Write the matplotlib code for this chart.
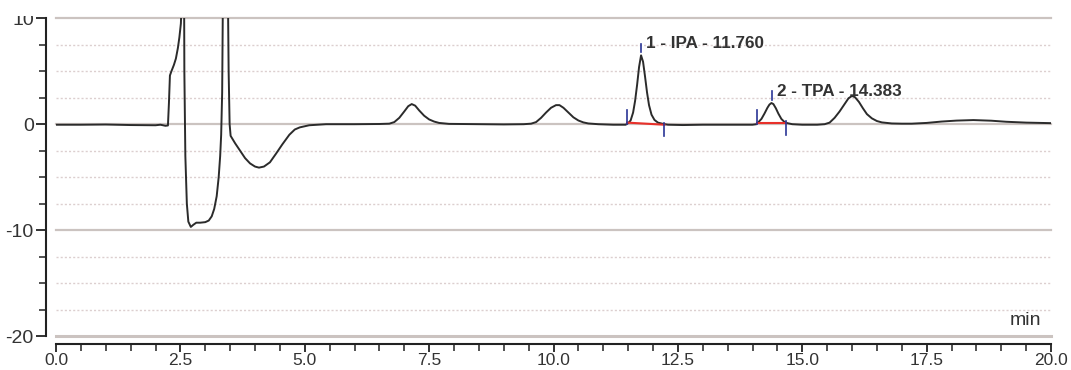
import matplotlib
matplotlib.use("Agg")
import matplotlib.pyplot as plt
from matplotlib.ticker import MultipleLocator, FixedLocator
from matplotlib.transforms import Bbox, TransformedBbox

# ---- data ----
time_min = [0.0, 0.5, 1.0, 1.5, 2.0, 2.1, 2.2, 2.25,
            2.27, 2.29, 2.32, 2.37, 2.41, 2.45, 2.48, 2.51, 2.53, 2.55, 2.56,
            2.57, 2.58, 2.60, 2.63, 2.66, 2.71, 2.76, 2.82, 2.90, 3.00, 3.07,
            3.13, 3.18, 3.23, 3.27, 3.30, 3.32, 3.34, 3.36, 3.38, 3.42, 3.45,
            3.47, 3.49, 3.51, 3.60, 3.70, 3.80, 3.90, 4.00, 4.08, 4.18, 4.30,
            4.42, 4.55, 4.69, 4.80, 4.90, 5.09, 5.43, 6.00, 6.50, 6.70, 6.80,
            6.90, 7.00, 7.08, 7.15, 7.22, 7.30, 7.40, 7.50, 7.60, 7.70, 7.90,
            8.50, 9.00, 9.40, 9.55, 9.65, 9.75, 9.85, 9.95, 10.05, 10.12, 10.20,
            10.30, 10.40, 10.50, 10.60, 10.70, 10.90, 11.20, 11.45,
            11.50, 11.55, 11.60, 11.64, 11.68, 11.72, 11.76, 11.80, 11.84, 11.88,
            11.92, 11.97, 12.03, 12.10, 12.20, 12.30, 12.60, 13.00, 13.50, 14.00,
            14.08, 14.12, 14.18, 14.24, 14.30, 14.34, 14.38, 14.42, 14.47, 14.52,
            14.58, 14.64, 14.70, 14.80, 15.00, 15.30, 15.45, 15.55, 15.65, 15.75,
            15.85, 15.93, 16.00, 16.06, 16.14, 16.22, 16.30, 16.40, 16.50, 16.60,
            16.80, 17.00, 17.20, 17.50, 17.80, 18.10, 18.44, 18.80, 19.10, 19.50,
            20.00]
signal_mv = [-0.05, -0.05, -0.03, -0.08, -0.10, -0.05, -0.15, -0.12,
             2.0, 4.6, 5.0, 5.6, 6.2, 7.2, 8.2, 9.5, 12.0, 20.0, 40.0,
             20.0, 5.0, -3.0, -7.5, -9.2, -9.7, -9.5, -9.3, -9.3, -9.25, -9.1,
             -8.7, -8.0, -6.8, -5.0, -3.0, -1.0, 3.0, 15.0, 40.0, 40.0, 15.0,
             5.0, 0.0, -1.1, -1.8, -2.5, -3.2, -3.7, -4.0, -4.1, -4.0, -3.6,
             -2.8, -1.9, -1.0, -0.5, -0.3, -0.1, 0.0, 0.0, 0.02, 0.05, 0.2,
             0.6, 1.2, 1.7, 1.9, 1.75, 1.3, 0.8, 0.45, 0.25, 0.12, 0.03,
             0.0, -0.02, 0.0, 0.05, 0.2, 0.6, 1.1, 1.55, 1.8, 1.8, 1.55,
             1.1, 0.65, 0.35, 0.17, 0.07, 0.0, -0.05, -0.05,
             0.1, 0.35, 1.1, 2.2, 3.7, 5.4, 6.5, 5.9, 4.5, 3.0,
             1.8, 0.9, 0.4, 0.15, 0.03, -0.05, -0.08, -0.05, -0.05, -0.05,
             0.0, 0.2, 0.5, 1.0, 1.55, 1.85, 2.0, 1.9, 1.5, 1.0,
             0.5, 0.22, 0.1, 0.0, -0.05, -0.05, 0.0, 0.15, 0.6, 1.2,
             1.9, 2.45, 2.67, 2.55, 2.1, 1.5, 0.95, 0.55, 0.3, 0.17,
             0.07, 0.05, 0.05, 0.12, 0.25, 0.34, 0.39, 0.33, 0.23, 0.15,
             0.10]

peak_labels = ["1 - IPA - 11.760", "2 - TPA - 14.383"]
peak_rt = [11.76, 14.383]
peak_height = [6.5, 2.0]
peak_start = [11.48, 14.09]
peak_end = [12.23, 14.67]
base_start_val = [0.15, 0.12]
base_end_val = [-0.05, 0.12]

y_major = [-20, -10, 0, 10]
y_labels = ["-20", "-10", "0", "10"]
x_major = [0.0, 2.5, 5.0, 7.5, 10.0, 12.5, 15.0, 17.5, 20.0]
x_labels = ["0.0", "2.5", "5.0", "7.5", "10.0", "12.5", "15.0", "17.5", "20.0"]

# ---- figure ----
W, H = 1071, 370
fig = plt.figure(figsize=(W / 100, H / 100), dpi=100)
ax = fig.add_axes([56 / W, 1 - 336 / H, (1051 - 56) / W, (336 - 18.3) / H])
ax.set_xlim(0, 20)
ax.set_ylim(-20, 10)

# grid
for v in [-17.5, -15, -12.5, -7.5, -5, -2.5, 2.5, 5, 7.5]:
    ax.axhline(v, color="#dccfcf", lw=1.0, ls=(0, (1.5, 1.5)), zorder=1)
for v in y_major:
    ax.axhline(v, color="#cbc3c0", lw=1.6 if v != -20 else 2.2, zorder=1,
               clip_on=False)

# trace
ax.plot(time_min, signal_mv, color="#2b2b2b", lw=1.4, zorder=3)

# integration baselines and markers
for i in range(len(peak_labels)):
    ax.plot([peak_start[i], peak_end[i]], [base_start_val[i], base_end_val[i]],
            color="#e8302a", lw=1.5, zorder=4)
    ax.plot([peak_start[i]] * 2, [base_start_val[i] - 0.1, base_start_val[i] + 1.2],
            color="#2a3596", lw=1.2, zorder=5)
    ax.plot([peak_end[i]] * 2, [base_end_val[i] + 0.15, base_end_val[i] - 1.1],
            color="#2a3596", lw=1.2, zorder=5)
    ax.plot([peak_rt[i]] * 2, [peak_height[i] + 0.3, peak_height[i] + 1.1],
            color="#2a3596", lw=1.2, zorder=5)
    ax.text(peak_rt[i] + 0.1, peak_height[i] + 0.65, peak_labels[i],
            fontsize=12.3, fontweight="bold", family="Liberation Sans",
            color="#333333", ha="left", va="baseline", zorder=6)

ax.text(19.8, -19.0, "min", fontsize=14, family="Liberation Sans",
        color="#333333", ha="right", va="baseline")

# axes styling
for s in ["top", "right"]:
    ax.spines[s].set_visible(False)
ax.spines["left"].set_position(("outward", 7))
ax.spines["bottom"].set_position(("outward", 6))
for s in ["left", "bottom"]:
    ax.spines[s].set_linewidth(1.5)
    ax.spines[s].set_color("#222222")

ax.yaxis.set_major_locator(FixedLocator(y_major))
ax.set_yticklabels(y_labels)
ax.yaxis.set_minor_locator(MultipleLocator(2.5))
ax.xaxis.set_major_locator(FixedLocator(x_major))
ax.set_xticklabels(x_labels)
ax.xaxis.set_minor_locator(MultipleLocator(0.5))
ax.tick_params(axis="both", which="major", length=7, width=1.3, color="#222222",
               labelsize=14, labelcolor="#333333")
ax.tick_params(axis="x", which="major", length=6, pad=0, labelsize=12.5)
ax.tick_params(axis="y", which="major", pad=2)
ax.tick_params(axis="both", which="minor", length=5, width=1.1, color="#222222")
for lbl in ax.get_xticklabels() + ax.get_yticklabels():
    lbl.set_family("Liberation Sans")

# clip the top "10" label as in the reference
fig.canvas.draw()
clip = TransformedBbox(Bbox.from_extents(0, 0, 1, (H - 16.0) / H), fig.transFigure)
for lbl in ax.get_yticklabels():
    if lbl.get_text() == "10":
        lbl.set_clip_box(clip)
        lbl.set_clip_on(True)

fig.savefig("out.png", dpi=100)
